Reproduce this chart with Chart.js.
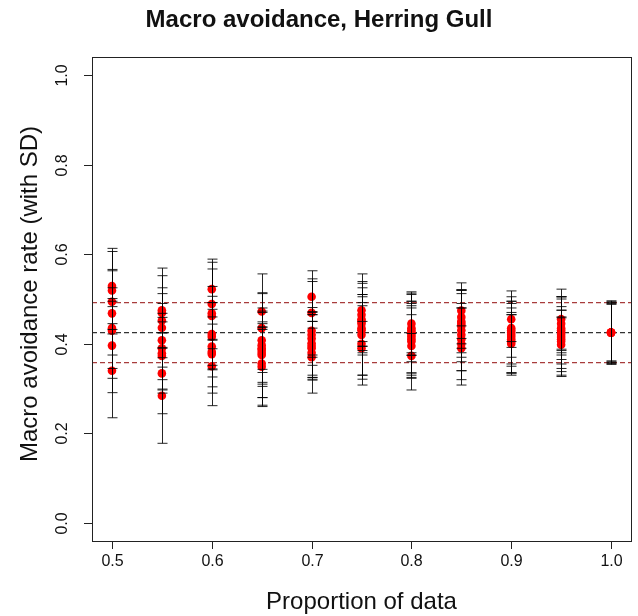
<!DOCTYPE html>
<html>
<head>
<meta charset="utf-8">
<script src="https://cdn.jsdelivr.net/npm/chart.js@4/dist/chart.umd.min.js"></script>
<style>
  body { margin: 0; background: #fff; }
  #wrap { width: 638px; height: 616px; }
</style>
</head>
<body>
<div id="wrap"><canvas id="avoidChart" width="638" height="616"></canvas></div>
<script>
// proportion of data used in each resample
var proportions = [0.5, 0.55, 0.6, 0.65, 0.7, 0.75, 0.8, 0.85, 0.9, 0.95, 1.0];

// mean avoidance rate of each resample, and its SD
var mean50 = [0.529, 0.519, 0.494, 0.468, 0.435, 0.429, 0.396, 0.340];
var sd50   = [0.034, 0.087, 0.072, 0.145, 0.090, 0.054, 0.105, 0.105];
var mean55 = [0.475, 0.469, 0.452, 0.436, 0.408, 0.390, 0.379, 0.373, 0.334, 0.284];
var sd55   = [0.050, 0.100, 0.060, 0.116, 0.060, 0.100, 0.080, 0.076, 0.090, 0.106];
var mean60 = [0.522, 0.489, 0.468, 0.462, 0.422, 0.416, 0.394, 0.382, 0.377, 0.350];
var sd60   = [0.045, 0.100, 0.060, 0.120, 0.070, 0.090, 0.050, 0.078, 0.115, 0.060];
var mean65 = [0.472, 0.435, 0.408, 0.397, 0.390, 0.386, 0.380, 0.375, 0.356, 0.349];
var sd65   = [0.040, 0.121, 0.065, 0.117, 0.080, 0.050, 0.100, 0.070, 0.093, 0.089];
var mean70 = [0.505, 0.469, 0.429, 0.420, 0.412, 0.401, 0.395, 0.390, 0.380, 0.370];
var sd70   = [0.040, 0.094, 0.110, 0.050, 0.060, 0.080, 0.070, 0.060, 0.055, 0.080];
var mean75 = [0.475, 0.465, 0.455, 0.450, 0.445, 0.435, 0.430, 0.420, 0.400, 0.390];
var sd75   = [0.081, 0.070, 0.050, 0.075, 0.065, 0.050, 0.109, 0.090, 0.092, 0.060];
var mean80 = [0.445, 0.435, 0.430, 0.425, 0.420, 0.415, 0.410, 0.405, 0.395, 0.373];
var sd80   = [0.071, 0.060, 0.050, 0.065, 0.090, 0.080, 0.075, 0.108, 0.070, 0.050];
var mean85 = [0.474, 0.460, 0.450, 0.445, 0.440, 0.430, 0.420, 0.410, 0.400, 0.390];
var sd85   = [0.062, 0.060, 0.070, 0.075, 0.050, 0.090, 0.060, 0.102, 0.080, 0.050];
var mean90 = [0.455, 0.435, 0.430, 0.425, 0.420, 0.415, 0.410, 0.405, 0.400];
var sd90   = [0.063, 0.030, 0.060, 0.070, 0.085, 0.080, 0.060, 0.075, 0.065];
var mean95 = [0.455, 0.445, 0.435, 0.430, 0.425, 0.420, 0.415, 0.410, 0.405, 0.398];
var sd95   = [0.067, 0.060, 0.070, 0.075, 0.050, 0.040, 0.085, 0.065, 0.078, 0.060];
var mean100 = [0.425, 0.425, 0.425, 0.425, 0.425];
var sd100   = [0.063, 0.065, 0.067, 0.069, 0.071];

var allMeans = [mean50, mean55, mean60, mean65, mean70, mean75, mean80, mean85, mean90, mean95, mean100];
var allSds = [sd50, sd55, sd60, sd65, sd70, sd75, sd80, sd85, sd90, sd95, sd100];

// overall estimate and its SD band
var refMean = 0.425;
var refLow = 0.358;
var refHigh = 0.492;

var xTicks = [0.5, 0.6, 0.7, 0.8, 0.9, 1.0];
var yTicks = [0.0, 0.2, 0.4, 0.6, 0.8, 1.0];
var xMin = 0.48, xMax = 1.02, yMin = -0.04, yMax = 1.04;

var points = [];
var bars = [];
proportions.forEach(function (p, i) {
    allMeans[i].forEach(function (m, j) {
        points.push({ x: p, y: m });
        bars.push({ x: p, lo: m - allSds[i][j], hi: m + allSds[i][j] });
    });
});

function hline(v) {
    return [{ x: xMin, y: v }, { x: xMax, y: v }];
}

// SD whiskers drawn over the points, like R's arrows()
var errorBars = {
    id: 'errorBars',
    afterDatasetsDraw: function (chart) {
        var c = chart.ctx, xs = chart.scales.x, ys = chart.scales.y;
        c.save();
        c.strokeStyle = 'rgba(0,0,0,0.85)';
        c.lineWidth = 1;
        bars.forEach(function (b) {
            var px = Math.round(xs.getPixelForValue(b.x)) + 0.5;
            var top = ys.getPixelForValue(b.hi), bot = ys.getPixelForValue(b.lo);
            c.beginPath();
            c.moveTo(px, top); c.lineTo(px, bot);
            c.moveTo(px - 5, top); c.lineTo(px + 5, top);
            c.moveTo(px - 5, bot); c.lineTo(px + 5, bot);
            c.stroke();
        });
        c.restore();
    }
};

// R-style box, ticks and labels
var rAxes = {
    id: 'rAxes',
    afterDraw: function (chart) {
        var c = chart.ctx, a = chart.chartArea, xs = chart.scales.x, ys = chart.scales.y;
        c.save();
        c.strokeStyle = '#222';
        c.lineWidth = 1;
        c.strokeRect(Math.round(a.left) + 0.5, Math.round(a.top) + 0.5,
            Math.round(a.right - a.left), Math.round(a.bottom - a.top));
        c.fillStyle = '#111';
        c.font = '16px "Liberation Sans", Arial, sans-serif';
        c.textAlign = 'center';
        c.textBaseline = 'middle';
        xTicks.forEach(function (t) {
            var px = Math.round(xs.getPixelForValue(t)) + 0.5;
            c.beginPath();
            c.moveTo(px, a.bottom); c.lineTo(px, a.bottom + 8);
            c.stroke();
            c.fillText(t.toFixed(1), px, a.bottom + 21);
        });
        yTicks.forEach(function (t) {
            var py = Math.round(ys.getPixelForValue(t)) + 0.5;
            c.beginPath();
            c.moveTo(a.left, py); c.lineTo(a.left - 8, py);
            c.stroke();
            c.save();
            c.translate(a.left - 29, py);
            c.rotate(-Math.PI / 2);
            c.fillText(t.toFixed(1), 0, 0);
            c.restore();
        });
        c.font = '24px "Liberation Sans", Arial, sans-serif';
        c.fillText('Proportion of data', (a.left + a.right) / 2, a.bottom + 61);
        c.save();
        c.translate(30, (a.top + a.bottom) / 2 - 5);
        c.rotate(-Math.PI / 2);
        c.fillText('Macro avoidance rate (with SD)', 0, 0);
        c.restore();
        c.font = 'bold 24px "Liberation Sans", Arial, sans-serif';
        c.fillText('Macro avoidance, Herring Gull', chart.width / 2, 20);
        c.restore();
    }
};

var ctx = document.getElementById('avoidChart').getContext('2d');
var avoidChart = new Chart(ctx, {
    type: 'scatter',
    data: {
        datasets: [{
            label: 'Resamples',
            data: points,
            backgroundColor: '#ff0000',
            borderColor: '#ff0000',
            pointRadius: 4.3,
            pointBorderWidth: 0,
            order: 0
        }, {
            type: 'line',
            label: 'Mean',
            data: hline(refMean),
            borderColor: '#333333',
            borderWidth: 1.3,
            borderDash: [5, 3],
            pointRadius: 0,
            order: 1
        }, {
            type: 'line',
            label: 'Upper SD',
            data: hline(refHigh),
            borderColor: '#a83c3c',
            borderWidth: 1.3,
            borderDash: [5, 3],
            pointRadius: 0,
            order: 1
        }, {
            type: 'line',
            label: 'Lower SD',
            data: hline(refLow),
            borderColor: '#a83c3c',
            borderWidth: 1.3,
            borderDash: [5, 3],
            pointRadius: 0,
            order: 1
        }]
    },
    options: {
        responsive: false,
        animation: false,
        layout: { padding: { left: 92, right: 7, top: 57, bottom: 75 } },
        plugins: {
            legend: { display: false },
            tooltip: { enabled: false }
        },
        scales: {
            x: { type: 'linear', min: xMin, max: xMax, display: false },
            y: { type: 'linear', min: yMin, max: yMax, display: false }
        }
    },
    plugins: [errorBars, rAxes]
});
</script>
</body>
</html>
